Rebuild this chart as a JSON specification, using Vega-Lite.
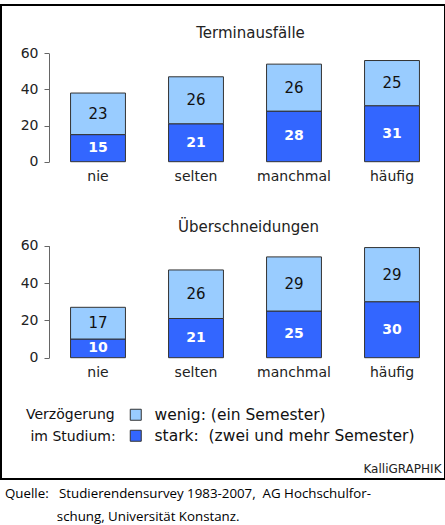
{
  "$schema": "https://vega.github.io/schema/vega-lite/v6.json",
  "width": 444,
  "height": 474,
  "autosize": {"type": "none"},
  "padding": {"left": 1, "top": 5, "right": 0, "bottom": 46},
  "background": "white",
  "config": {
    "view": {"stroke": "black", "strokeWidth": 2},
    "font": "DejaVu Sans",
    "axis": {"grid": false, "labelFont": "DejaVu Sans", "labelFontSize": 14, "labelColor": "#222", "titleFont": "DejaVu Sans", "titleFontWeight": "normal", "titleColor": "#222", "domainColor": "#666", "tickColor": "#666"},
    "legend": {"padding": 0}
  },
  "title": {
    "text": ["Quelle:\u00a0\u00a0\u00a0Studierendensurvey 1983-2007,\u00a0\u00a0AG Hochschulfor-", "\u200b\u00a0\u00a0\u00a0\u00a0\u00a0\u00a0\u00a0\u00a0\u00a0\u00a0\u00a0\u00a0\u00a0\u00a0\u00a0schung, Universität Konstanz."],
    "orient": "bottom", "anchor": "start", "frame": "group",
    "font": "Open Sans", "fontSize": 13.3, "fontWeight": "normal", "color": "black",
    "lineHeight": 23, "offset": 8, "dx": 4
  },
  "datasets": {
    "t": [
      {"chart": "Terminausfälle", "freq": "nie", "level": "stark", "value": 15},
      {"chart": "Terminausfälle", "freq": "nie", "level": "wenig", "value": 23},
      {"chart": "Terminausfälle", "freq": "selten", "level": "stark", "value": 21},
      {"chart": "Terminausfälle", "freq": "selten", "level": "wenig", "value": 26},
      {"chart": "Terminausfälle", "freq": "manchmal", "level": "stark", "value": 28},
      {"chart": "Terminausfälle", "freq": "manchmal", "level": "wenig", "value": 26},
      {"chart": "Terminausfälle", "freq": "häufig", "level": "stark", "value": 31},
      {"chart": "Terminausfälle", "freq": "häufig", "level": "wenig", "value": 25}
    ],
    "u": [
      {"chart": "Überschneidungen", "freq": "nie", "level": "stark", "value": 10},
      {"chart": "Überschneidungen", "freq": "nie", "level": "wenig", "value": 17},
      {"chart": "Überschneidungen", "freq": "selten", "level": "stark", "value": 21},
      {"chart": "Überschneidungen", "freq": "selten", "level": "wenig", "value": 26},
      {"chart": "Überschneidungen", "freq": "manchmal", "level": "stark", "value": 25},
      {"chart": "Überschneidungen", "freq": "manchmal", "level": "wenig", "value": 29},
      {"chart": "Überschneidungen", "freq": "häufig", "level": "stark", "value": 30},
      {"chart": "Überschneidungen", "freq": "häufig", "level": "wenig", "value": 29}
    ]
  },
  "layer": [
    {
      "data": {"name": "t"},
      "transform": [{"stack": "value", "groupby": ["freq"], "sort": [{"field": "level", "order": "ascending"}], "as": ["lo", "hi"]}],
      "encoding": {
        "x": {"field": "freq", "type": "nominal", "sort": ["nie", "selten", "manchmal", "häufig"],
          "scale": {"range": [48, 440], "paddingInner": 0.44, "paddingOuter": 0.22},
          "axis": {"orient": "bottom", "offset": -317.3, "domain": false, "ticks": false, "labelAngle": 0, "labelPadding": 8, "title": null}}
      },
      "layer": [
        {"mark": {"type": "bar", "stroke": "#333", "strokeWidth": 1},
          "encoding": {
            "y": {"field": "lo", "type": "quantitative",
              "scale": {"domain": [0, 60], "range": [156.7, 48.3], "nice": false},
              "axis": {"orient": "left", "offset": -48, "values": [0, 20, 40, 60], "tickSize": 5, "labelPadding": 6,
                "title": "Terminausfälle", "titleAngle": 0, "titleAlign": "center", "titleBaseline": "alphabetic", "titleX": 201, "titleY": 32.7, "titleFontSize": 15}},
            "y2": {"field": "hi"},
            "color": {"field": "level", "type": "nominal",
            "scale": {"domain": ["wenig", "stark"], "range": ["#99CCFF", "#3366FF"]},
            "legend": {"orient": "none", "legendX": 25, "legendY": 402, "direction": "vertical",
              "title": ["Verzögerung", "\u200b\u00a0im Studium:"], "titleOrient": "left", "titleAlign": "left", "titleFontSize": 14, "titleFontWeight": "normal", "titleColor": "#111", "titleLineHeight": 21.5, "titlePadding": 12,
              "symbolType": "square", "symbolSize": 121, "symbolStrokeColor": "#333", "symbolStrokeWidth": 1, "symbolOpacity": 1,
              "labelFontSize": 15.5, "labelColor": "#111", "labelOffset": 11, "labelLimit": 400, "rowPadding": 4,
              "labelExpr": "datum.label == 'wenig' ? 'wenig: (ein Semester)' : 'stark:\u00a0\u00a0(zwei und mehr Semester)'"}}}},
        {"transform": [{"filter": "datum.level == 'wenig'"}, {"fold": ["lo", "hi"], "as": ["edge", "pos"]}, {"aggregate": [{"op": "mean", "field": "pos", "as": "mid"}], "groupby": ["freq", "level", "value"]}],
          "mark": {"type": "text", "fontSize": 15, "color": "#111"},
          "encoding": {"y": {"field": "mid", "type": "quantitative",
              "axis": {"orient": "left", "offset": -48, "values": [0, 20, 40, 60], "tickSize": 5, "labelPadding": 6,
                "title": "Terminausfälle", "titleAngle": 0, "titleAlign": "center", "titleBaseline": "alphabetic", "titleX": 201, "titleY": 32.7, "titleFontSize": 15}},
            "text": {"field": "value", "type": "quantitative"}}},
        {"transform": [{"filter": "datum.level == 'stark'"}, {"fold": ["lo", "hi"], "as": ["edge", "pos"]}, {"aggregate": [{"op": "mean", "field": "pos", "as": "mid"}], "groupby": ["freq", "level", "value"]}],
          "mark": {"type": "text", "fontSize": 14, "fontWeight": "bold", "color": "white"},
          "encoding": {"y": {"field": "mid", "type": "quantitative",
              "axis": {"orient": "left", "offset": -48, "values": [0, 20, 40, 60], "tickSize": 5, "labelPadding": 6,
                "title": "Terminausfälle", "titleAngle": 0, "titleAlign": "center", "titleBaseline": "alphabetic", "titleX": 201, "titleY": 32.7, "titleFontSize": 15}},
            "text": {"field": "value", "type": "quantitative"}}}
      ]
    },
    {
      "data": {"name": "u"},
      "transform": [{"stack": "value", "groupby": ["freq"], "sort": [{"field": "level", "order": "ascending"}], "as": ["lo", "hi"]}],
      "encoding": {
        "x": {"field": "freq", "type": "nominal", "sort": ["nie", "selten", "manchmal", "häufig"],
          "scale": {"range": [48, 440], "paddingInner": 0.44, "paddingOuter": 0.22},
          "axis": {"orient": "bottom", "offset": -121.3, "domain": false, "ticks": false, "labelAngle": 0, "labelPadding": 8,
            "title": "KalliGRAPHIK", "titleFontSize": 12, "titleX": 440, "titleY": 115, "titleAlign": "right", "titleBaseline": "alphabetic", "titleAnchor": "end"}}
      },
      "layer": [
        {"mark": {"type": "bar", "stroke": "#333", "strokeWidth": 1},
          "encoding": {
            "y": {"field": "lo", "type": "quantitative",
              "scale": {"domain": [0, 60], "range": [352.7, 240.7], "nice": false},
              "axis": {"orient": "left", "offset": -48, "values": [0, 20, 40, 60], "tickSize": 5, "labelPadding": 6,
                "title": "Überschneidungen", "titleAngle": 0, "titleAlign": "center", "titleBaseline": "alphabetic", "titleX": 199, "titleY": 226.7, "titleFontSize": 15}},
            "y2": {"field": "hi"},
            "color": {"field": "level", "type": "nominal",
            "scale": {"domain": ["wenig", "stark"], "range": ["#99CCFF", "#3366FF"]},
            "legend": {"orient": "none", "legendX": 25, "legendY": 402, "direction": "vertical",
              "title": ["Verzögerung", "\u200b\u00a0im Studium:"], "titleOrient": "left", "titleAlign": "left", "titleFontSize": 14, "titleFontWeight": "normal", "titleColor": "#111", "titleLineHeight": 21.5, "titlePadding": 12,
              "symbolType": "square", "symbolSize": 121, "symbolStrokeColor": "#333", "symbolStrokeWidth": 1, "symbolOpacity": 1,
              "labelFontSize": 15.5, "labelColor": "#111", "labelOffset": 11, "labelLimit": 400, "rowPadding": 4,
              "labelExpr": "datum.label == 'wenig' ? 'wenig: (ein Semester)' : 'stark:\u00a0\u00a0(zwei und mehr Semester)'"}}}},
        {"transform": [{"filter": "datum.level == 'wenig'"}, {"fold": ["lo", "hi"], "as": ["edge", "pos"]}, {"aggregate": [{"op": "mean", "field": "pos", "as": "mid"}], "groupby": ["freq", "level", "value"]}],
          "mark": {"type": "text", "fontSize": 15, "color": "#111"},
          "encoding": {"y": {"field": "mid", "type": "quantitative",
              "axis": {"orient": "left", "offset": -48, "values": [0, 20, 40, 60], "tickSize": 5, "labelPadding": 6,
                "title": "Überschneidungen", "titleAngle": 0, "titleAlign": "center", "titleBaseline": "alphabetic", "titleX": 199, "titleY": 226.7, "titleFontSize": 15}},
            "text": {"field": "value", "type": "quantitative"}}},
        {"transform": [{"filter": "datum.level == 'stark'"}, {"fold": ["lo", "hi"], "as": ["edge", "pos"]}, {"aggregate": [{"op": "mean", "field": "pos", "as": "mid"}], "groupby": ["freq", "level", "value"]}],
          "mark": {"type": "text", "fontSize": 14, "fontWeight": "bold", "color": "white"},
          "encoding": {"y": {"field": "mid", "type": "quantitative",
              "axis": {"orient": "left", "offset": -48, "values": [0, 20, 40, 60], "tickSize": 5, "labelPadding": 6,
                "title": "Überschneidungen", "titleAngle": 0, "titleAlign": "center", "titleBaseline": "alphabetic", "titleX": 199, "titleY": 226.7, "titleFontSize": 15}},
            "text": {"field": "value", "type": "quantitative"}}}
      ]
    }
  ],
  "resolve": {"scale": {"x": "independent", "y": "independent"}, "axis": {"x": "independent", "y": "independent"}}
}
